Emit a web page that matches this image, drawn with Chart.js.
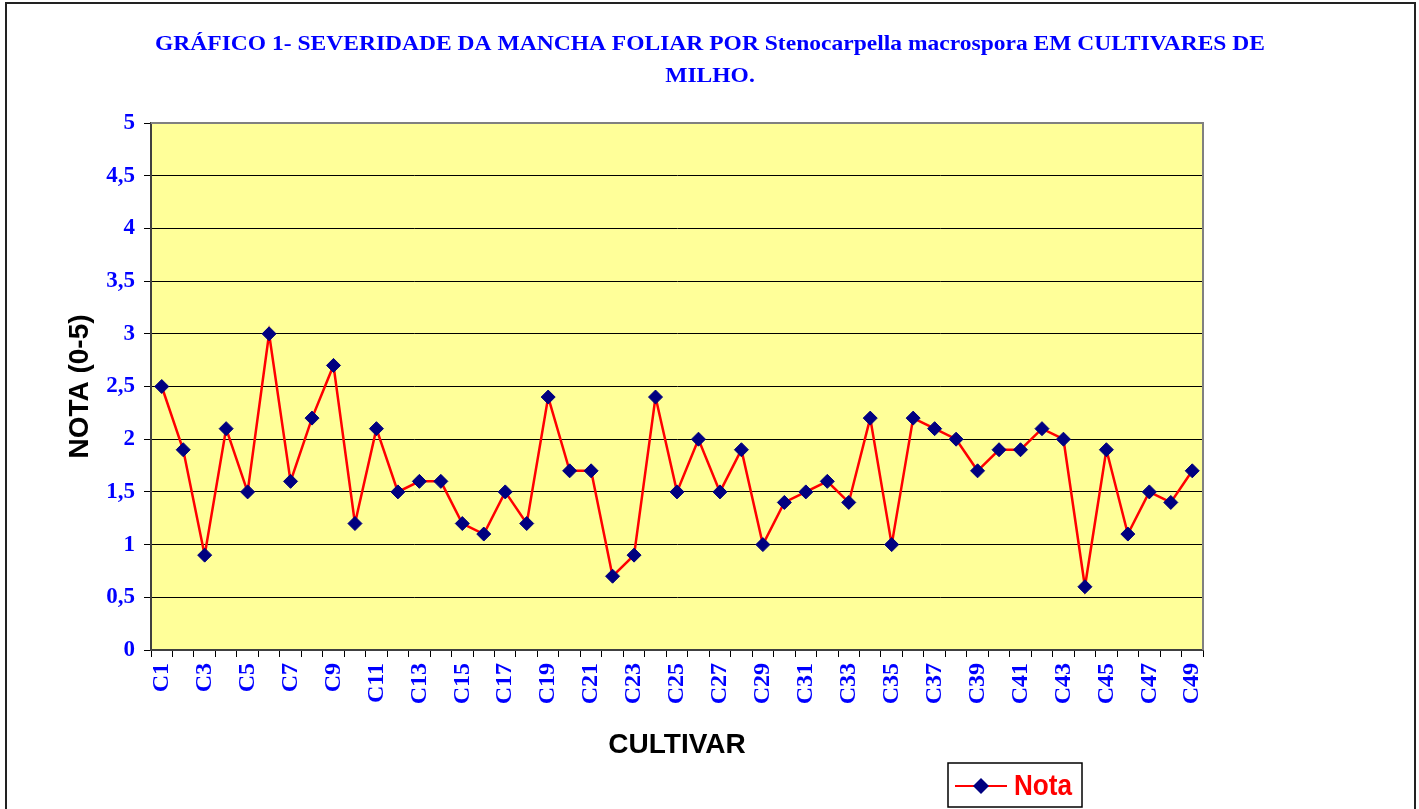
<!DOCTYPE html>
<html>
<head>
<meta charset="utf-8">
<script src="https://cdn.jsdelivr.net/npm/chart.js@4/dist/chart.umd.min.js"></script>
<style>
  html, body { margin: 0; padding: 0; background: #fff; overflow: hidden; }
  #wrap { position: relative; width: 1419px; height: 809px; }
  #frame { position: absolute; left: 5px; top: 2px; width: 1407px; height: 840px; border: 2px solid #222; pointer-events: none; }
</style>
</head>
<body>
<div id="wrap">
  <canvas id="chart"></canvas>
  <div id="frame"></div>
</div>
<script>
const titleLines = [
  "GRÁFICO 1- SEVERIDADE DA MANCHA FOLIAR POR Stenocarpella macrospora EM CULTIVARES DE",
  "MILHO."
]
const cultivars = []
for (let i = 1; i <= 49; i++) cultivars.push("C" + i)

const nota = [
  2.5, 1.9, 0.9, 2.1, 1.5, 3.0, 1.6, 2.2, 2.7, 1.2,
  2.1, 1.5, 1.6, 1.6, 1.2, 1.1, 1.5, 1.2, 2.4, 1.7,
  1.7, 0.7, 0.9, 2.4, 1.5, 2.0, 1.5, 1.9, 1.0, 1.4,
  1.5, 1.6, 1.4, 2.2, 1.0, 2.2, 2.1, 2.0, 1.7, 1.9,
  1.9, 2.1, 2.0, 0.6, 1.9, 1.1, 1.5, 1.4, 1.7
]
const yTicks = { min: 0, max: 5, step: 0.5 }

const blue  = "#0000FF"
const navy  = "#000080"
const red   = "#FF0000"
const serif = "'Liberation Serif', 'Times New Roman', serif"
const sans  = "'Liberation Sans', Arial, sans-serif"

const plotBg = {
  id: "plotBg",
  beforeDraw(chart) {
    const { ctx, chartArea: a } = chart
    ctx.save()
    ctx.fillStyle = "#FFFF99"
    ctx.fillRect(a.left, a.top, a.right - a.left, a.bottom - a.top)
    ctx.restore()
  },
  afterDraw(chart) {
    const { ctx, chartArea: a } = chart
    ctx.save()
    ctx.strokeStyle = "#808080"
    ctx.lineWidth = 2
    ctx.beginPath()
    ctx.moveTo(a.left, a.top)
    ctx.lineTo(a.right, a.top)
    ctx.lineTo(a.right, a.bottom)
    ctx.stroke()
    ctx.restore()
  }
}

// condensed serif title, first line stretched to the width it has in the original
const squeezedTitle = {
  id: "squeezedTitle",
  afterDraw(chart) {
    const ctx = chart.ctx
    ctx.save()
    ctx.fillStyle = blue
    ctx.font = "bold 22px " + serif
    ctx.textAlign = "center"
    ctx.textBaseline = "middle"
    const sx = 1110 / ctx.measureText(titleLines[0]).width
    titleLines.forEach((line, i) => {
      ctx.save()
      ctx.translate(710, 44 + i * 32)
      ctx.scale(sx, 1)
      ctx.fillText(line, 0, 0)
      ctx.restore()
    })
    ctx.restore()
  }
}

const boxLegend = {
  id: "boxLegend",
  afterDraw(chart) {
    const ctx = chart.ctx
    const ds = chart.data.datasets[0]
    const x = 948, y = 763, w = 134, h = 44
    ctx.save()
    ctx.fillStyle = "#fff"
    ctx.fillRect(x, y, w, h)
    ctx.strokeStyle = "#000"
    ctx.lineWidth = 1.5
    ctx.strokeRect(x, y, w, h)
    const my = y + 23
    ctx.strokeStyle = ds.borderColor
    ctx.lineWidth = 2
    ctx.beginPath()
    ctx.moveTo(x + 7, my)
    ctx.lineTo(x + 59, my)
    ctx.stroke()
    ctx.fillStyle = ds.pointBackgroundColor
    ctx.beginPath()
    ctx.moveTo(x + 33, my - 8); ctx.lineTo(x + 41, my); ctx.lineTo(x + 33, my + 8); ctx.lineTo(x + 25, my)
    ctx.closePath()
    ctx.fill()
    ctx.fillStyle = red
    ctx.font = "bold 29px " + sans
    ctx.textBaseline = "middle"
    ctx.save()
    ctx.translate(x + 66, my + 1)
    ctx.scale(0.9, 1)
    ctx.fillText(ds.label, 0, 0)
    ctx.restore()
    ctx.restore()
  }
}

new Chart(document.getElementById("chart"), {
  type: "line",
  data: {
    labels: cultivars,
    datasets: [{
      label: "Nota",
      data: nota,
      borderColor: red,
      borderWidth: 2.5,
      tension: 0,
      fill: false,
      pointStyle: "rectRot",
      pointRadius: 7,
      pointHoverRadius: 7,
      pointBackgroundColor: navy,
      pointBorderColor: navy,
      pointBorderWidth: 1
    }]
  },
  options: {
    responsive: true,
    maintainAspectRatio: false,
    animation: false,
    events: [],
    layout: { padding: { top: 123, right: 216, bottom: 50, left: 60 } },
    plugins: {
      legend: { display: false },
      title: { display: false },
      tooltip: { enabled: false }
    },
    scales: {
      x: {
        offset: true,
        afterFit: s => { s.height = 809 - 650 - 50 },
        grid: {
          offset: true,
          drawOnChartArea: false,
          drawTicks: true,
          tickLength: 7,
          tickColor: "#000"
        },
        border: { color: "#404040", width: 2 },
        ticks: {
          autoSkip: false,
          minRotation: 90,
          maxRotation: 90,
          padding: 6,
          color: blue,
          font: { family: serif, size: 24, weight: "bold" },
          callback: (v, i) => i % 2 === 0 ? cultivars[i] : ""
        },
        title: {
          display: true,
          text: "CULTIVAR",
          color: "#000",
          padding: { top: 0, bottom: 0 },
          font: { family: sans, size: 28, weight: "bold", lineHeight: 1 }
        }
      },
      y: {
        min: yTicks.min,
        max: yTicks.max,
        afterFit: s => { s.width = 151 - 60 },
        grid: {
          color: c => c.tick && c.tick.value === yTicks.max ? "#808080" : "#000",
          lineWidth: 1,
          drawTicks: true,
          tickLength: 7,
          tickColor: "#000"
        },
        border: { color: "#404040", width: 2 },
        ticks: {
          stepSize: yTicks.step,
          padding: 9,
          color: blue,
          font: { family: serif, size: 23, weight: "bold" },
          callback: v => String(v).replace(".", ",")
        },
        title: {
          display: true,
          text: "NOTA (0-5)",
          color: "#000",
          padding: { top: 6, bottom: 6 },
          font: { family: sans, size: 28, weight: "bold", lineHeight: 1 }
        }
      }
    }
  },
  plugins: [plotBg, squeezedTitle, boxLegend]
})
</script>
</body>
</html>
